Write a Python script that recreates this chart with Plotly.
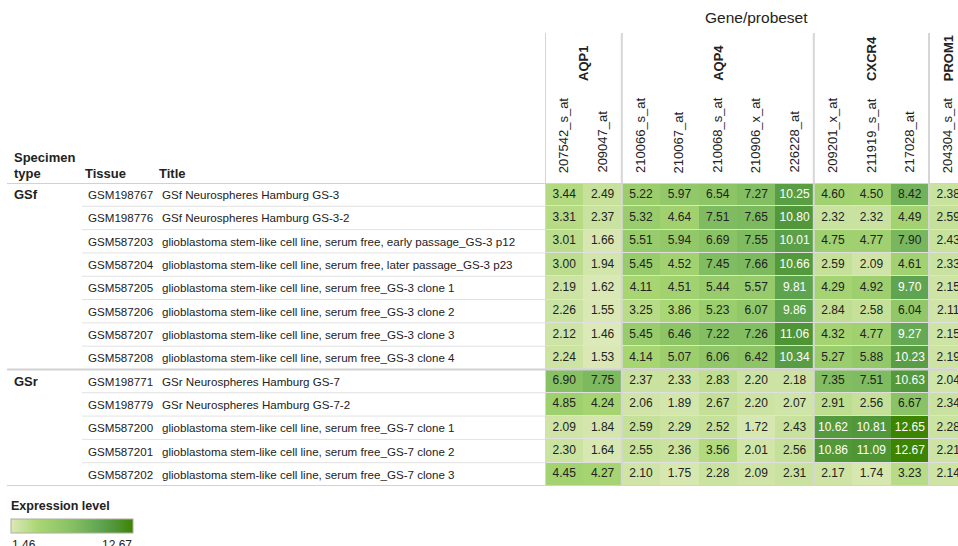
import plotly.graph_objects as go

# ---- data -------------------------------------------------------------
probesets = ["207542_s_at", "209047_at", "210066_s_at", "210067_at", "210068_s_at",
             "210906_x_at", "226228_at", "209201_x_at", "211919_s_at", "217028_at",
             "204304_s_at"]
genes = ["AQP1", "AQP1", "AQP4", "AQP4", "AQP4", "AQP4", "AQP4",
         "CXCR4", "CXCR4", "CXCR4", "PROM1"]

specimen_types = ["GSf"] * 8 + ["GSr"] * 5
samples = ["GSM198767", "GSM198776", "GSM587203", "GSM587204", "GSM587205",
           "GSM587206", "GSM587207", "GSM587208", "GSM198771", "GSM198779",
           "GSM587200", "GSM587201", "GSM587202"]
titles = [
    "GSf Neurospheres Hamburg GS-3",
    "GSf Neurospheres Hamburg GS-3-2",
    "glioblastoma stem-like cell line, serum free, early passage_GS-3 p12",
    "glioblastoma stem-like cell line, serum free, later passage_GS-3 p23",
    "glioblastoma stem-like cell line, serum free_GS-3 clone 1",
    "glioblastoma stem-like cell line, serum free_GS-3 clone 2",
    "glioblastoma stem-like cell line, serum free_GS-3 clone 3",
    "glioblastoma stem-like cell line, serum free_GS-3 clone 4",
    "GSr Neurospheres Hamburg GS-7",
    "GSr Neurospheres Hamburg GS-7-2",
    "glioblastoma stem-like cell line, serum free_GS-7 clone 1",
    "glioblastoma stem-like cell line, serum free_GS-7 clone 2",
    "glioblastoma stem-like cell line, serum free_GS-7 clone 3",
]

expression = [
    [3.44, 2.49, 5.22, 5.97, 6.54, 7.27, 10.25, 4.60, 4.50, 8.42, 2.38],
    [3.31, 2.37, 5.32, 4.64, 7.51, 7.65, 10.80, 2.32, 2.32, 4.49, 2.59],
    [3.01, 1.66, 5.51, 5.94, 6.69, 7.55, 10.01, 4.75, 4.77, 7.90, 2.43],
    [3.00, 1.94, 5.45, 4.52, 7.45, 7.66, 10.66, 2.59, 2.09, 4.61, 2.33],
    [2.19, 1.62, 4.11, 4.51, 5.44, 5.57, 9.81, 4.29, 4.92, 9.70, 2.15],
    [2.26, 1.55, 3.25, 3.86, 5.23, 6.07, 9.86, 2.84, 2.58, 6.04, 2.11],
    [2.12, 1.46, 5.45, 6.46, 7.22, 7.26, 11.06, 4.32, 4.77, 9.27, 2.15],
    [2.24, 1.53, 4.14, 5.07, 6.06, 6.42, 10.34, 5.27, 5.88, 10.23, 2.19],
    [6.90, 7.75, 2.37, 2.33, 2.83, 2.20, 2.18, 7.35, 7.51, 10.63, 2.04],
    [4.85, 4.24, 2.06, 1.89, 2.67, 2.20, 2.07, 2.91, 2.56, 6.67, 2.34],
    [2.09, 1.84, 2.59, 2.29, 2.52, 1.72, 2.43, 10.62, 10.81, 12.65, 2.28],
    [2.30, 1.64, 2.55, 2.36, 3.56, 2.01, 2.56, 10.86, 11.09, 12.67, 2.21],
    [4.45, 4.27, 2.10, 1.75, 2.28, 2.09, 2.31, 2.17, 1.74, 3.23, 2.14],
]

# ---- page geometry (pixels) -------------------------------------------
W, H = 958, 546
FONT = "Liberation Sans, Arial, Helvetica, sans-serif"
TXT = "#222222"
LINE = "#d6d6d6"
GRID_LEFT = 545          # left edge of the value grid
GRID_TOP, GRID_BOTTOM = 183, 486
COL_W = 38.4
n_rows, n_cols = len(samples), len(probesets)


def px(x):
    return x / W


def py(y):
    return 1 - y / H


flat = [v for row in expression for v in row]
zmin, zmax = min(flat), max(flat)

colorscale = [
    [0.0, "#dce9b8"],
    [0.22, "#a9d673"],
    [0.5, "#86c063"],
    [0.72, "#61a653"],
    [0.86, "#4f9534"],
    [1.0, "#3d8400"],
]

fig = go.Figure()

fig.add_trace(go.Heatmap(
    z=expression,
    x=list(range(n_cols)),
    y=list(range(n_rows)),
    zmin=zmin, zmax=zmax,
    colorscale=colorscale,
    ygap=1,
    hoverinfo="skip",
    colorbar=dict(
        orientation="h",
        x=px(11), xanchor="left",
        y=py(519), yanchor="top",
        len=122, lenmode="pixels",
        thickness=14, thicknessmode="pixels",
        outlinewidth=1, outlinecolor="#aeae9e",
        showticklabels=False, ticks="",
        xpad=0, ypad=0,
    ),
))

# cell value labels, white on the darkest cells
xs, ys, labels, colors = [], [], [], []
for r, row in enumerate(expression):
    for c, v in enumerate(row):
        xs.append(c)
        ys.append(r)
        labels.append(f"{v:.2f}")
        colors.append("#ffffff" if v > 9 else TXT)
fig.add_trace(go.Scatter(
    x=xs, y=ys, text=labels, mode="text",
    textfont=dict(family=FONT, size=12, color=colors),
    hoverinfo="skip", showlegend=False,
))

annotations = []
shapes = []

# header: overall title, gene names and probeset ids
x_last = -0.5 + (W - GRID_LEFT) / COL_W
annotations.append(dict(
    text="Gene/probeset", xref="x", yref="paper",
    x=(n_cols - 1) / 2, y=py(18), showarrow=False,
    font=dict(family=FONT, size=15.5, color=TXT),
    xanchor="center", yanchor="middle"))

groups = []
for i, g in enumerate(genes):
    if i == 0 or g != genes[i - 1]:
        groups.append([g, i, i])
    else:
        groups[-1][2] = i
for g, a, b in groups:
    annotations.append(dict(
        text=f"<b>{g}</b>", xref="x", yref="paper",
        x=(a + b) / 2, y=py(83), showarrow=False, textangle=-90,
        font=dict(family=FONT, size=13, color=TXT),
        xanchor="center", yanchor="bottom"))
    shapes.append(dict(
        type="line", xref="x", yref="paper", layer="above",
        x0=a - 0.5, x1=a - 0.5, y0=py(GRID_BOTTOM), y1=py(33),
        line=dict(color=LINE, width=2)))

for i, p in enumerate(probesets):
    annotations.append(dict(
        text=p, xref="x", yref="paper",
        x=i, y=py(175), showarrow=False, textangle=-90,
        font=dict(family=FONT, size=13, color=TXT),
        xanchor="center", yanchor="bottom"))

# left table headers
for text, x, y in [("<b>Specimen</b>", 12, 157), ("<b>type</b>", 12, 173),
                   ("<b>Tissue</b>", 83, 173), ("<b>Title</b>", 157, 173)]:
    annotations.append(dict(
        text=text, xref="paper", yref="paper", x=px(x), y=py(y),
        showarrow=False, font=dict(family=FONT, size=13, color=TXT),
        xanchor="left", yanchor="middle"))

# left table rows
for r in range(n_rows):
    if r == 0 or specimen_types[r] != specimen_types[r - 1]:
        annotations.append(dict(
            text=f"<b>{specimen_types[r]}</b>", xref="paper", yref="y",
            x=px(12), y=r, showarrow=False,
            font=dict(family=FONT, size=13, color=TXT),
            xanchor="left", yanchor="middle"))
    annotations.append(dict(
        text=samples[r], xref="paper", yref="y", x=px(86), y=r,
        showarrow=False, font=dict(family=FONT, size=11.6, color=TXT),
        xanchor="left", yanchor="middle"))
    annotations.append(dict(
        text=titles[r], xref="paper", yref="y", x=px(160), y=r,
        showarrow=False, font=dict(family=FONT, size=11.6, color=TXT),
        xanchor="left", yanchor="middle"))

# horizontal rules
for r in range(n_rows + 1):
    boundary = r - 0.5
    full = r in (0, n_rows) or specimen_types[r] != specimen_types[r - 1]
    shapes.append(dict(
        type="line", xref="paper", yref="y", layer="above",
        x0=px(7) if full else px(82), x1=1 if full else px(GRID_LEFT),
        y0=boundary, y1=boundary,
        line=dict(color="#d2d2d2" if full else "#e2e2e2", width=2 if full else 1)))

# expression legend
annotations.append(dict(
    text="<b>Expression level</b>", xref="paper", yref="paper",
    x=px(9), y=py(506), showarrow=False,
    font=dict(family=FONT, size=12.5, color=TXT),
    xanchor="left", yanchor="middle"))
annotations.append(dict(
    text=f"{zmin:.2f}", xref="paper", yref="paper", x=px(10), y=py(536),
    showarrow=False, font=dict(family=FONT, size=12, color=TXT),
    xanchor="left", yanchor="top"))
annotations.append(dict(
    text=f"{zmax:.2f}", xref="paper", yref="paper", x=px(134), y=py(536),
    showarrow=False, font=dict(family=FONT, size=12, color=TXT),
    xanchor="right", yanchor="top"))

fig.update_layout(
    width=W, height=H,
    margin=dict(l=0, r=0, t=0, b=0),
    paper_bgcolor="white", plot_bgcolor="#e0e0e0",
    showlegend=False,
    xaxis=dict(domain=[px(GRID_LEFT), 1], range=[-0.5, x_last],
               visible=False, fixedrange=True),
    yaxis=dict(domain=[py(GRID_BOTTOM), py(GRID_TOP)],
               range=[n_rows - 0.5, -0.5], visible=False, fixedrange=True),
    annotations=annotations,
    shapes=shapes,
)

fig.write_html("out.html")
